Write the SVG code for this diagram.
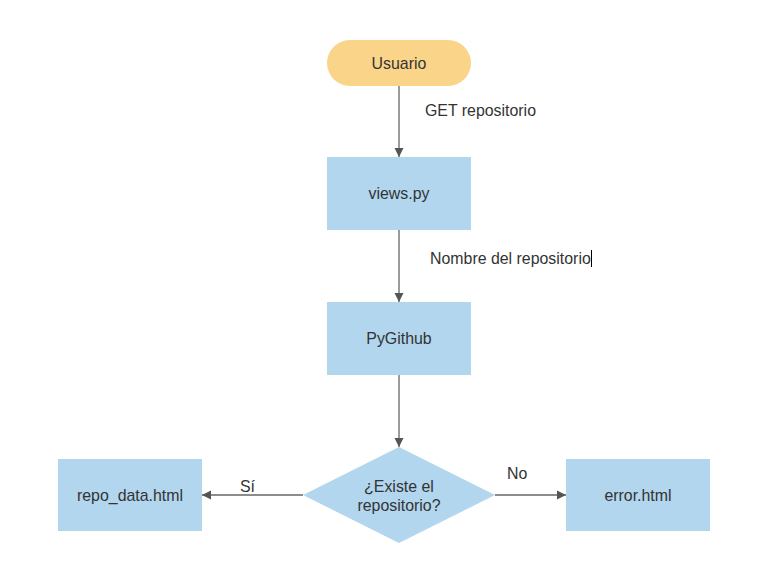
<svg xmlns="http://www.w3.org/2000/svg" width="767" height="572" viewBox="0 0 767 572">
<defs>
<style>
.box{fill:#B1D6EE;stroke:none}
.term{fill:#FAD488;stroke:none}
.lbl{font-family:"Liberation Sans",Arial,sans-serif;font-size:15.9px;fill:#333333}
.ctr{text-anchor:middle}
.edge{stroke:#666666;stroke-width:1.3;fill:none;marker-end:url(#ah)}
</style>
<marker id="ah" markerWidth="10" markerHeight="10" refX="9" refY="5" orient="auto" markerUnits="userSpaceOnUse">
<path d="M0,0.5 L9,5 L0,9.5 Z" fill="#555555"/>
</marker>
</defs>
<rect width="767" height="572" fill="#ffffff"/>
<g id="connectors">
<line class="edge" x1="399" y1="86" x2="399" y2="157"/>
<line class="edge" x1="399" y1="230" x2="399" y2="302"/>
<line class="edge" x1="399" y1="375" x2="399" y2="447"/>
<line class="edge" x1="303" y1="495" x2="202" y2="495"/>
<line class="edge" x1="495" y1="495" x2="566" y2="495"/>
<text class="lbl" x="425" y="116">GET repositorio</text>
<text class="lbl" x="430" y="264">Nombre del repositorio</text>
<line x1="591.5" y1="250" x2="591.5" y2="267" stroke="#000000" stroke-width="1"/>
<text class="lbl" x="240" y="492">Sí</text>
<text class="lbl" x="507" y="479">No</text>
</g>
<g id="usuario">
<rect class="term" x="327" y="40" width="144" height="46" rx="23" ry="23"/>
<text class="lbl ctr" x="399" y="69">Usuario</text>
</g>
<g id="views">
<rect class="box" x="327" y="157" width="144" height="73"/>
<text class="lbl ctr" x="399" y="199">views.py</text>
</g>
<g id="pygithub">
<rect class="box" x="327" y="302" width="144" height="73"/>
<text class="lbl ctr" x="399" y="344">PyGithub</text>
</g>
<g id="decision">
<polygon class="box" points="399,447 495,495 399,543 303,495"/>
<text class="lbl ctr" x="399" y="492">¿Existe el</text>
<text class="lbl ctr" x="399" y="511">repositorio?</text>
</g>
<g id="repo_data">
<rect class="box" x="58" y="459" width="144" height="72"/>
<text class="lbl ctr" x="130" y="501">repo_data.html</text>
</g>
<g id="error">
<rect class="box" x="566" y="459" width="144" height="72"/>
<text class="lbl ctr" x="638" y="501">error.html</text>
</g>
</svg>
